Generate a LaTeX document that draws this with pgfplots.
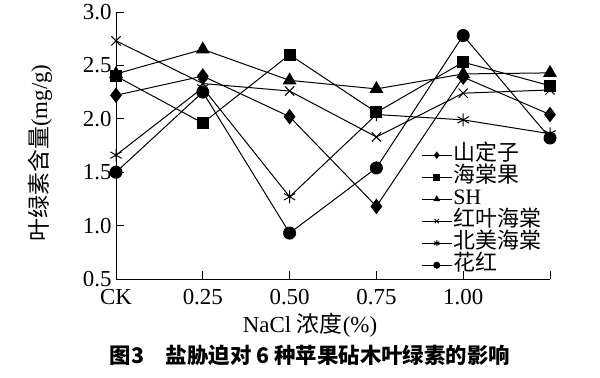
\documentclass[border=0pt]{standalone}
\usepackage{pgfplots}
\pgfplotsset{compat=1.18}
\usepackage{fontspec}
\setmainfont{Liberation Serif}
\newfontfamily\cjk{Noto Sans CJK SC}
\begin{document}
\begin{tikzpicture}[x=1bp,y=1bp]
\useasboundingbox (0,0) rectangle (600,377);
\begin{axis}[
  at={(116bp,98bp)}, anchor=south west,
  scale only axis, width=434bp, height=267bp,
  axis x line*=bottom, axis y line*=left,
  axis line style={line width=0.9bp, black},
  xmin=0, xmax=5, ymin=0.5, ymax=3.0,
  xtick={0,1,2,3,4,5},
  xticklabels={CK,0.25,0.50,0.75,1.00,{}},
  ytick={0.5,1.0,1.5,2.0,2.5,3.0},
  yticklabel style={/pgf/number format/fixed,/pgf/number format/fixed zerofill,/pgf/number format/precision=1, xshift=-1bp},
  /pgf/number format/assume math mode=true,
  tick align=inside, major tick length=8bp,
  tick style={line width=0.9bp, black},
  ticklabel style={font=\fontsize{23}{23}\selectfont},
  xticklabel style={yshift=-7bp},
  xlabel={NaCl {\cjk 浓度}(\%)},
  xlabel style={font=\fontsize{23}{23}\selectfont, at={(axis description cs:0.447,-0.172)}, anchor=center},
  ylabel={{\cjk 叶绿素含量}(mg/g)},
  ylabel style={font=\fontsize{23}{23}\selectfont, at={(axis description cs:-0.175,0.472)}, anchor=center},
  every axis plot/.append style={black, line width=1bp, mark options={solid, line width=1bp}},
  legend style={draw=none, fill=none, at={(axis description cs:0.696,0.513)}, anchor=north west,
    font=\cjk\fontsize{22}{22}\selectfont,
    nodes={inner ysep=0.5bp, inner xsep=1bp, text height=16bp, text depth=5bp},
    row sep=0bp},
  legend cell align=left,
  legend image code/.code={\draw[#1, mark size=3bp, mark repeat=2, mark phase=2] plot coordinates {(0bp,0bp) (15bp,0bp) (30bp,0bp)};},
]
\addplot[mark=diamond*, mark size=7bp] coordinates {(0,2.22) (1,2.40) (2,2.02) (3,1.18) (4,2.39) (5,2.04)};
\addlegendentry{山定子}
\addplot[mark=square*, mark size=5.5bp] coordinates {(0,2.40) (1,1.96) (2,2.60) (3,2.06) (4,2.53) (5,2.31)};
\addlegendentry{海棠果}
\addplot[mark=triangle*, mark size=7bp] coordinates {(0,2.42) (1,2.65) (2,2.36) (3,2.28) (4,2.42) (5,2.43)};
\addlegendentry{\rmfamily SH}
\addplot[mark=x, mark size=6.5bp] coordinates {(0,2.73) (1,2.33) (2,2.26) (3,1.83) (4,2.24) (5,2.27)};
\addlegendentry{红叶海棠}
\addplot[mark=asterisk, mark size=6.5bp] coordinates {(0,1.66) (1,2.29) (2,1.27) (3,2.04) (4,1.99) (5,1.86)};
\addlegendentry{北美海棠}
\addplot[mark=*, mark size=6bp] coordinates {(0,1.50) (1,2.25) (2,0.93) (3,1.54) (4,2.78) (5,1.82)};
\addlegendentry{花红}
\end{axis}
\node[font=\cjk\bfseries\fontsize{21.5}{21.5}\selectfont, anchor=center] at (310,22) {图3\hspace{1em}盐胁迫对 6 种苹果砧木叶绿素的影响};
\end{tikzpicture}
\end{document}
